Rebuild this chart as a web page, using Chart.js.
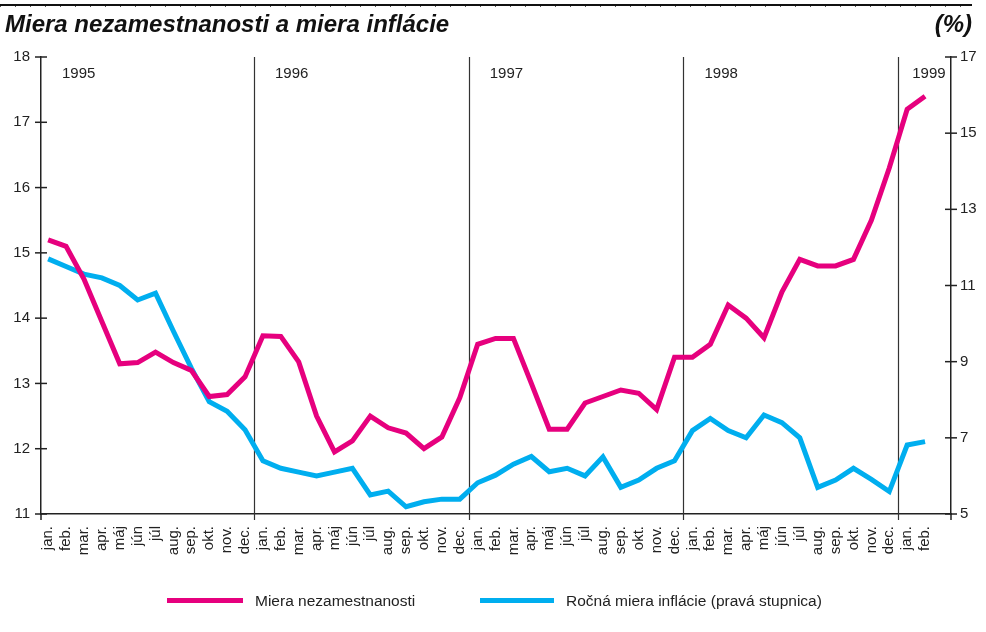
<!DOCTYPE html>
<html>
<head>
<meta charset="utf-8">
<script src="https://cdn.jsdelivr.net/npm/chart.js@4"></script>
<style>
  body { margin: 0; background: #fff; }
  #wrap { position: relative; width: 986px; height: 632px; overflow: hidden; }
  #chart { position: absolute; left: 0; top: 0; }
  .rule { position: absolute; left: 0; top: 4px; width: 972px; height: 2px; background: #111; }
  .rule2 { position: absolute; left: 0; top: 6px; width: 972px; height: 1px;
           background: repeating-linear-gradient(90deg, #555 0 1px, transparent 1px 15px); }
  .title, .pct { position: absolute; top: 12px; font: italic bold 24px/24px 'Liberation Sans Narrow', 'Arial Narrow', 'Liberation Sans', sans-serif; color: #111; }
  .title { left: 5px; }
  .pct { right: 14px; }
  .leg { position: absolute; top: 592px; font: 15.5px 'Liberation Sans', Arial, sans-serif; color: #222; }
  .sw { position: absolute; top: 598px; height: 5px; }
</style>
</head>
<body>
<div id="wrap">
  <canvas id="chart" width="986" height="632"></canvas>
  <div class="rule"></div>
  <div class="rule2"></div>
  <div class="title">Miera nezamestnanosti a miera inflácie</div>
  <div class="pct">(%)</div>
  <div class="sw" style="left:167px;width:76px;background:#e6007e"></div>
  <div class="leg" style="left:255px">Miera nezamestnanosti</div>
  <div class="sw" style="left:480px;width:74px;background:#00aeef"></div>
  <div class="leg" style="left:566px">Ročná miera inflácie (pravá stupnica)</div>
</div>
<script>
const monthNames = ['jan.', 'feb.', 'mar.', 'apr.', 'máj', 'jún', 'júl', 'aug.', 'sep.', 'okt.', 'nov.', 'dec.']
const years = ['1995', '1996', '1997', '1998', '1999']
const months = []
years.forEach(y => monthNames.forEach(m => months.push(m)))
months.length = 50 // jan 1995 .. feb 1999

// miera nezamestnanosti (lava stupnica)
const unemployment = [
  15.2, 15.1, 14.6, 13.95, 13.3, 13.32, 13.48, 13.32, 13.2, 12.8, 12.83, 13.1,
  13.73, 13.72, 13.33, 12.5, 11.95, 12.12, 12.5, 12.32, 12.24, 12.0, 12.18, 12.78,
  13.6, 13.69, 13.69, 13.0, 12.3, 12.3, 12.7, 12.8, 12.9, 12.85, 12.6, 13.4,
  13.4, 13.6, 14.2, 14.0, 13.7, 14.4, 14.9, 14.8, 14.8, 14.9, 15.5, 16.3,
  17.2, 17.4
]
// rocna miera inflacie (prava stupnica)
const inflation = [
  11.7, 11.5, 11.3, 11.2, 11.0, 10.62, 10.8, 9.8, 8.83, 7.95, 7.7, 7.21,
  6.4, 6.2, 6.1, 6.0, 6.1, 6.2, 5.5, 5.6, 5.19, 5.32, 5.39, 5.39,
  5.82, 6.02, 6.31, 6.51, 6.11, 6.2, 6.0, 6.5, 5.7, 5.89, 6.2, 6.4,
  7.19, 7.51, 7.19, 7.0, 7.6, 7.4, 7.0, 5.7, 5.89, 6.2, 5.91, 5.59,
  6.81, 6.9
]
const leftTicks = [11, 18]
const rightTicks = [5, 17]

const ink = '#222'
const font = { family: "'Liberation Sans', Arial, sans-serif", size: 15 }

const decorations = {
  id: 'decorations',
  beforeDatasetsDraw(chart) {
    const { ctx, chartArea, scales } = chart
    const x = scales.x
    ctx.save()
    ctx.strokeStyle = '#333'
    ctx.lineWidth = 1.2
    // year dividers
    for (let b = 12; b < months.length; b += 12) {
      const px = Math.round(x.getPixelForValue(b - 0.5)) + 0.5
      ctx.beginPath()
      ctx.moveTo(px, chartArea.top)
      ctx.lineTo(px, chartArea.bottom + 6)
      ctx.stroke()
    }
    // year labels
    ctx.fillStyle = ink
    ctx.font = "15px 'Liberation Sans', Arial, sans-serif"
    ctx.textBaseline = 'middle'
    years.forEach((y, i) => {
      const start = i === 0 ? chartArea.left : x.getPixelForValue(i * 12 - 0.5)
      ctx.fillText(y, start + (i === 4 ? 14 : 21), chartArea.top + 17)
    })
    // crossing ticks on the value axes
    ctx.strokeStyle = ink
    ctx.lineWidth = 1.5
    ;[scales.y, scales.y2].forEach(s => {
      const ax = s.position === 'left' ? chartArea.left : chartArea.right
      s.ticks.forEach(t => {
        const py = s.getPixelForValue(t.value)
        ctx.beginPath()
        ctx.moveTo(ax - 6, py)
        ctx.lineTo(ax + 6, py)
        ctx.stroke()
      })
      ctx.beginPath()
      ctx.moveTo(ax, chartArea.bottom)
      ctx.lineTo(ax, chartArea.bottom + 6)
      ctx.stroke()
    })
    ctx.restore()
  }
}

new Chart('chart', {
  type: 'line',
  data: {
    datasets: [{
      label: 'Miera nezamestnanosti',
      data: unemployment.map((v, i) => ({ x: i, y: v })),
      borderColor: '#e6007e',
      borderWidth: 5,
      pointRadius: 0,
      tension: 0,
      yAxisID: 'y'
    }, {
      label: 'Ročná miera inflácie (pravá stupnica)',
      data: inflation.map((v, i) => ({ x: i, y: v })),
      borderColor: '#00aeef',
      borderWidth: 5,
      pointRadius: 0,
      tension: 0,
      yAxisID: 'y2'
    }]
  },
  options: {
    responsive: false,
    animation: false,
    layout: { padding: { top: 57, left: 0, right: 0, bottom: 0 } },
    plugins: { legend: { display: false }, tooltip: { enabled: false } },
    scales: {
      x: {
        type: 'linear',
        min: -0.4,
        max: 50.45,
        grid: { display: false },
        border: { display: true, color: ink, width: 1.5 },
        afterBuildTicks: s => { s.ticks = months.map((m, i) => ({ value: i })) },
        ticks: {
          autoSkip: false,
          maxRotation: 90,
          minRotation: 90,
          padding: 4,
          color: ink,
          font: font,
          callback: v => months[v] || ''
        },
        afterFit: s => { s.height = 118 }
      },
      y: {
        position: 'left',
        min: leftTicks[0],
        max: leftTicks[1],
        grid: { display: false },
        border: { display: true, color: ink, width: 1.5 },
        ticks: { stepSize: 1, padding: 3, color: ink, font: font },
        afterFit: s => { s.width = 41 }
      },
      y2: {
        position: 'right',
        min: rightTicks[0],
        max: rightTicks[1],
        grid: { display: false },
        border: { display: true, color: ink, width: 1.5 },
        ticks: { stepSize: 2, padding: 1, color: ink, font: font },
        afterFit: s => { s.width = 35 }
      }
    }
  },
  plugins: [decorations]
})
</script>
</body>
</html>
